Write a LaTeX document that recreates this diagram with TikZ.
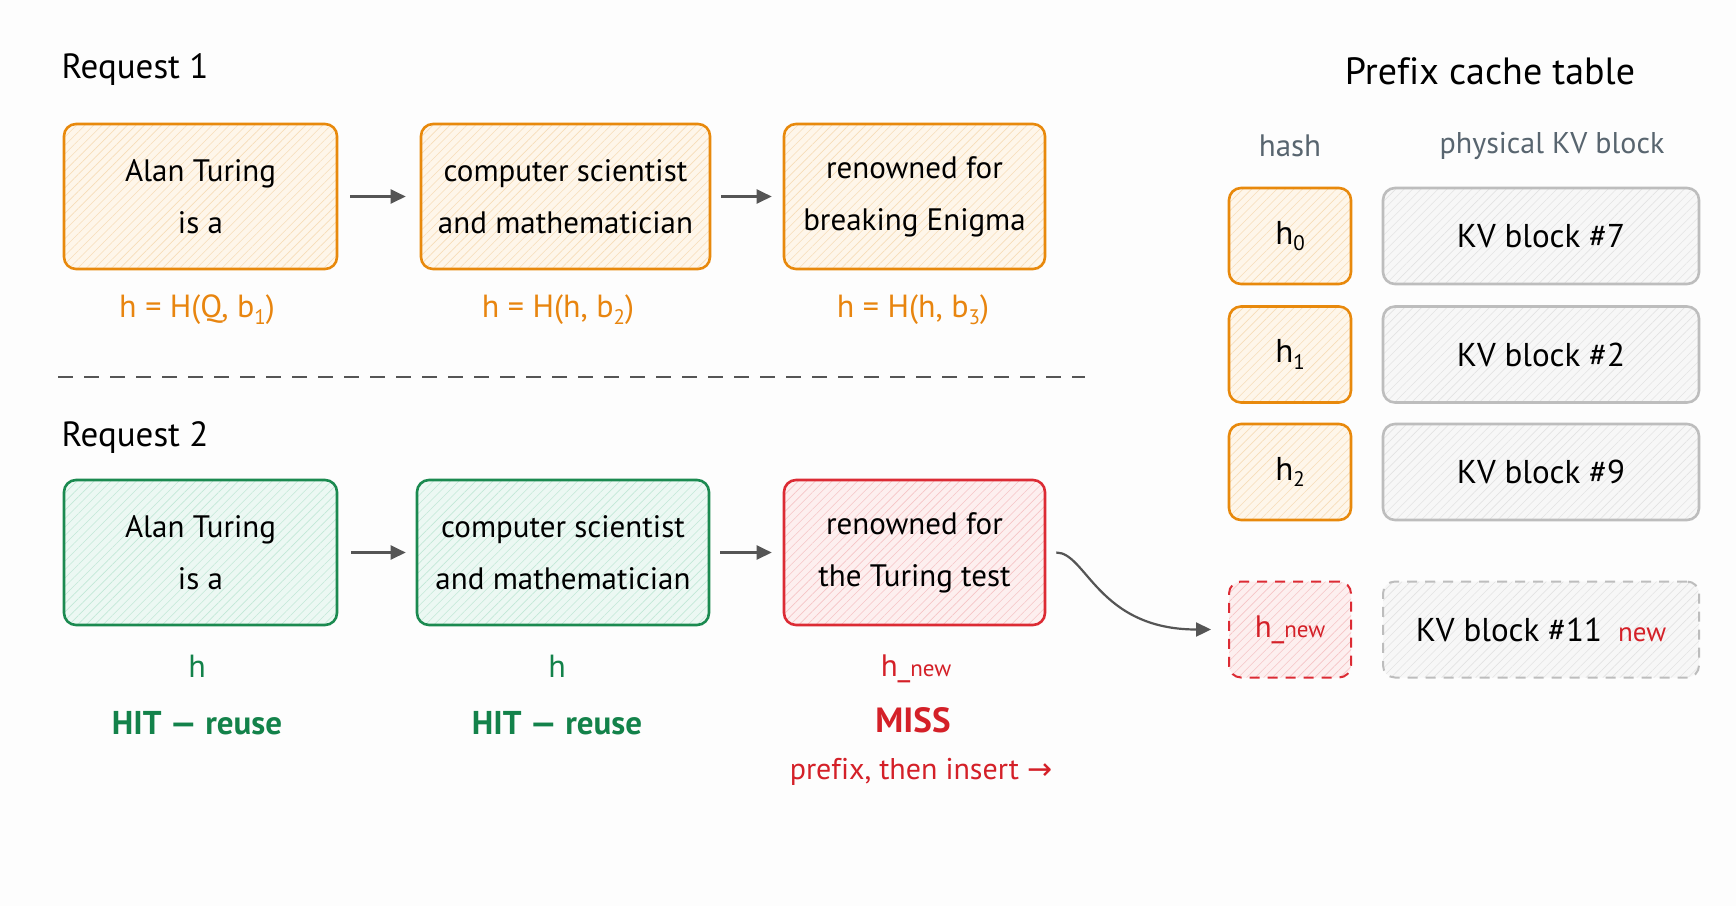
\documentclass[tikz,border=0pt]{standalone}
\usepackage{fontspec}
\setmainfont[Ligatures=NoCommon]{PT Sans}
\newfontfamily\symfont{DejaVu Sans}
\usetikzlibrary{arrows.meta,patterns.meta}
\definecolor{orS}{HTML}{E8890C}
\definecolor{orF}{HTML}{FEF6EA}
\definecolor{orH}{HTML}{F7DDB8}
\definecolor{grS}{HTML}{1B8A50}
\definecolor{grF}{HTML}{ECF8F3}
\definecolor{grH}{HTML}{C2E8D7}
\definecolor{rdS}{HTML}{DC2B34}
\definecolor{rdF}{HTML}{FDEFEF}
\definecolor{rdH}{HTML}{F6C4C6}
\definecolor{gyS}{HTML}{BDBDBD}
\definecolor{gyF}{HTML}{F7F7F7}
\definecolor{gyH}{HTML}{E3E3E3}
\definecolor{arr}{HTML}{555555}
\definecolor{hdr}{HTML}{58656F}
\definecolor{orT}{HTML}{E8850F}
\definecolor{grT}{HTML}{13824A}
\definecolor{rdT}{HTML}{D42028}
\definecolor{bg}{HTML}{FDFDFD}
\newcommand\lsub[1]{\raisebox{-0.4ex}{\fontsize{21}{21}\selectfont #1}}
\tikzset{
  box/.style={rounded corners=12pt, line width=2.6pt, align=center, inner sep=0pt,
    minimum height=145pt, font=\fontsize{31}{52}\selectfont},
  cell/.style={rounded corners=12pt, line width=2.6pt, align=center, inner sep=0pt,
    minimum height=96pt, font=\fontsize{33}{36}\selectfont},
  hatch/.style n args={3}{draw=#1, preaction={fill=#2},
    pattern={Lines[angle=45,distance=6pt,line width=0.6pt]}, pattern color=#3},
  obox/.style={hatch={orS}{orF}{orH}},
  gbox/.style={hatch={grS}{grF}{grH}},
  rbox/.style={hatch={rdS}{rdF}{rdH}},
  kbox/.style={hatch={gyS}{gyF}{gyH}},
  dashbox/.style={dash pattern=on 10pt off 8pt, line width=2pt},
  conn/.style={draw=arr, line width=2.2pt, -{Triangle[length=15pt,width=14pt]}},
  title/.style={font=\fontsize{35}{40}\selectfont},
  lab/.style={font=\fontsize{32}{36}\selectfont},
  blab/.style={font=\bfseries\fontsize{33}{36}\selectfont},
  hdrlab/.style={font=\fontsize{30}{34}\selectfont, text=hdr},
}
\begin{document}
\begin{tikzpicture}[x=1pt,y=-1pt]
\useasboundingbox (0,0) rectangle (1736,906);
\fill[bg] (0,0) rectangle (1736,906);

% Request 1
\node[title, anchor=west] (t1) at (58,70) {Request 1};
\node[box, obox, minimum width=273pt] (a1) at (200.5,196.5) {Alan Turing\\is a};
\node[box, obox, minimum width=289pt] (a2) at (565.5,196.5) {computer scientist\\and mathematician};
\node[box, obox, minimum width=261pt] (a3) at (914.5,196.5) {renowned for\\breaking Enigma};
\draw[conn, shorten <=13pt, shorten >=14pt] (a1.east) -- (a2.west);
\draw[conn, shorten <=10pt, shorten >=11pt] (a2.east) -- (a3.west);
\node[lab, text=orT] (la1) at (197,310) {h = H(Q, b\lsub{1})};
\node[lab, text=orT] (la2) at (558,310) {h = H(h, b\lsub{2})};
\node[lab, text=orT] (la3) at (913,310) {h = H(h, b\lsub{3})};

% separator
\draw[draw=arr, line width=1.6pt, dash pattern=on 15pt off 11pt] (58,377) -- (1085,377);

% Request 2
\node[title, anchor=west] (t2) at (58,438) {Request 2};
\node[box, gbox, minimum width=273pt] (b1) at (200.5,552.5) {Alan Turing\\is a};
\node[box, gbox, minimum width=292pt] (b2) at (563,552.5) {computer scientist\\and mathematician};
\node[box, rbox, minimum width=261pt] (b3) at (914.5,552.5) {renowned for\\the Turing test};
\draw[conn, shorten <=13pt, shorten >=10pt] (b1.east) -- (b2.west);
\draw[conn, shorten <=10pt, shorten >=11pt] (b2.east) -- (b3.west);
\node[lab, text=grT] (lb1) at (197,666) {h};
\node[lab, text=grT] (lb2) at (557,666) {h};
\node[blab, text=grT] (hb1) at (197,723) {HIT — reuse};
\node[blab, text=grT] (hb2) at (557,723) {HIT — reuse};
\node[text=rdT, font=\fontsize{31}{34}\selectfont] (lb3) at (916,669) {h\_{\fontsize{23}{24}\selectfont new}};
\node[blab, text=rdT, font=\bfseries\fontsize{35}{38}\selectfont] (mb3) at (913,720) {MISS};
\node[text=rdT, font=\fontsize{30}{34}\selectfont] (pb3) at (921,772) {prefix, then insert {\symfont\fontsize{30}{34}\selectfont →}};

% Prefix cache table
\node[title, font=\fontsize{38}{42}\selectfont] (tt) at (1490,71) {Prefix cache table};
\node[hdrlab, font=\fontsize{31}{34}\selectfont] (hh) at (1290,146) {hash};
\node[hdrlab] (hk) at (1552,146) {physical KV block};
\node[cell, obox, minimum width=122pt] (h0) at (1290,236) {h\lsub{0}};
\node[cell, kbox, minimum width=316pt] (k0) at (1541,236) {KV block \#7};
\node[cell, obox, minimum width=122pt] (h1) at (1290,354.5) {h\lsub{1}};
\node[cell, kbox, minimum width=316pt] (k1) at (1541,354.5) {KV block \#2};
\node[cell, obox, minimum width=122pt] (h2) at (1290,472) {h\lsub{2}};
\node[cell, kbox, minimum width=316pt] (k2) at (1541,472) {KV block \#9};
\node[cell, rbox, dashbox, minimum width=122pt, text=rdT, font=\fontsize{31}{34}\selectfont] (hn) at (1290,629.5) {h\_{\fontsize{23}{24}\selectfont new}};
\node[cell, kbox, dashbox, minimum width=316pt] (kn) at (1541,629.5) {KV block \#11\hspace{16pt}{\color{rdT}\fontsize{27}{28}\selectfont new}};

\draw[conn, shorten <=10pt, shorten >=17pt] (b3.east) .. controls +(40,0) and +(-130,0) .. (hn.west);
\end{tikzpicture}
\end{document}
